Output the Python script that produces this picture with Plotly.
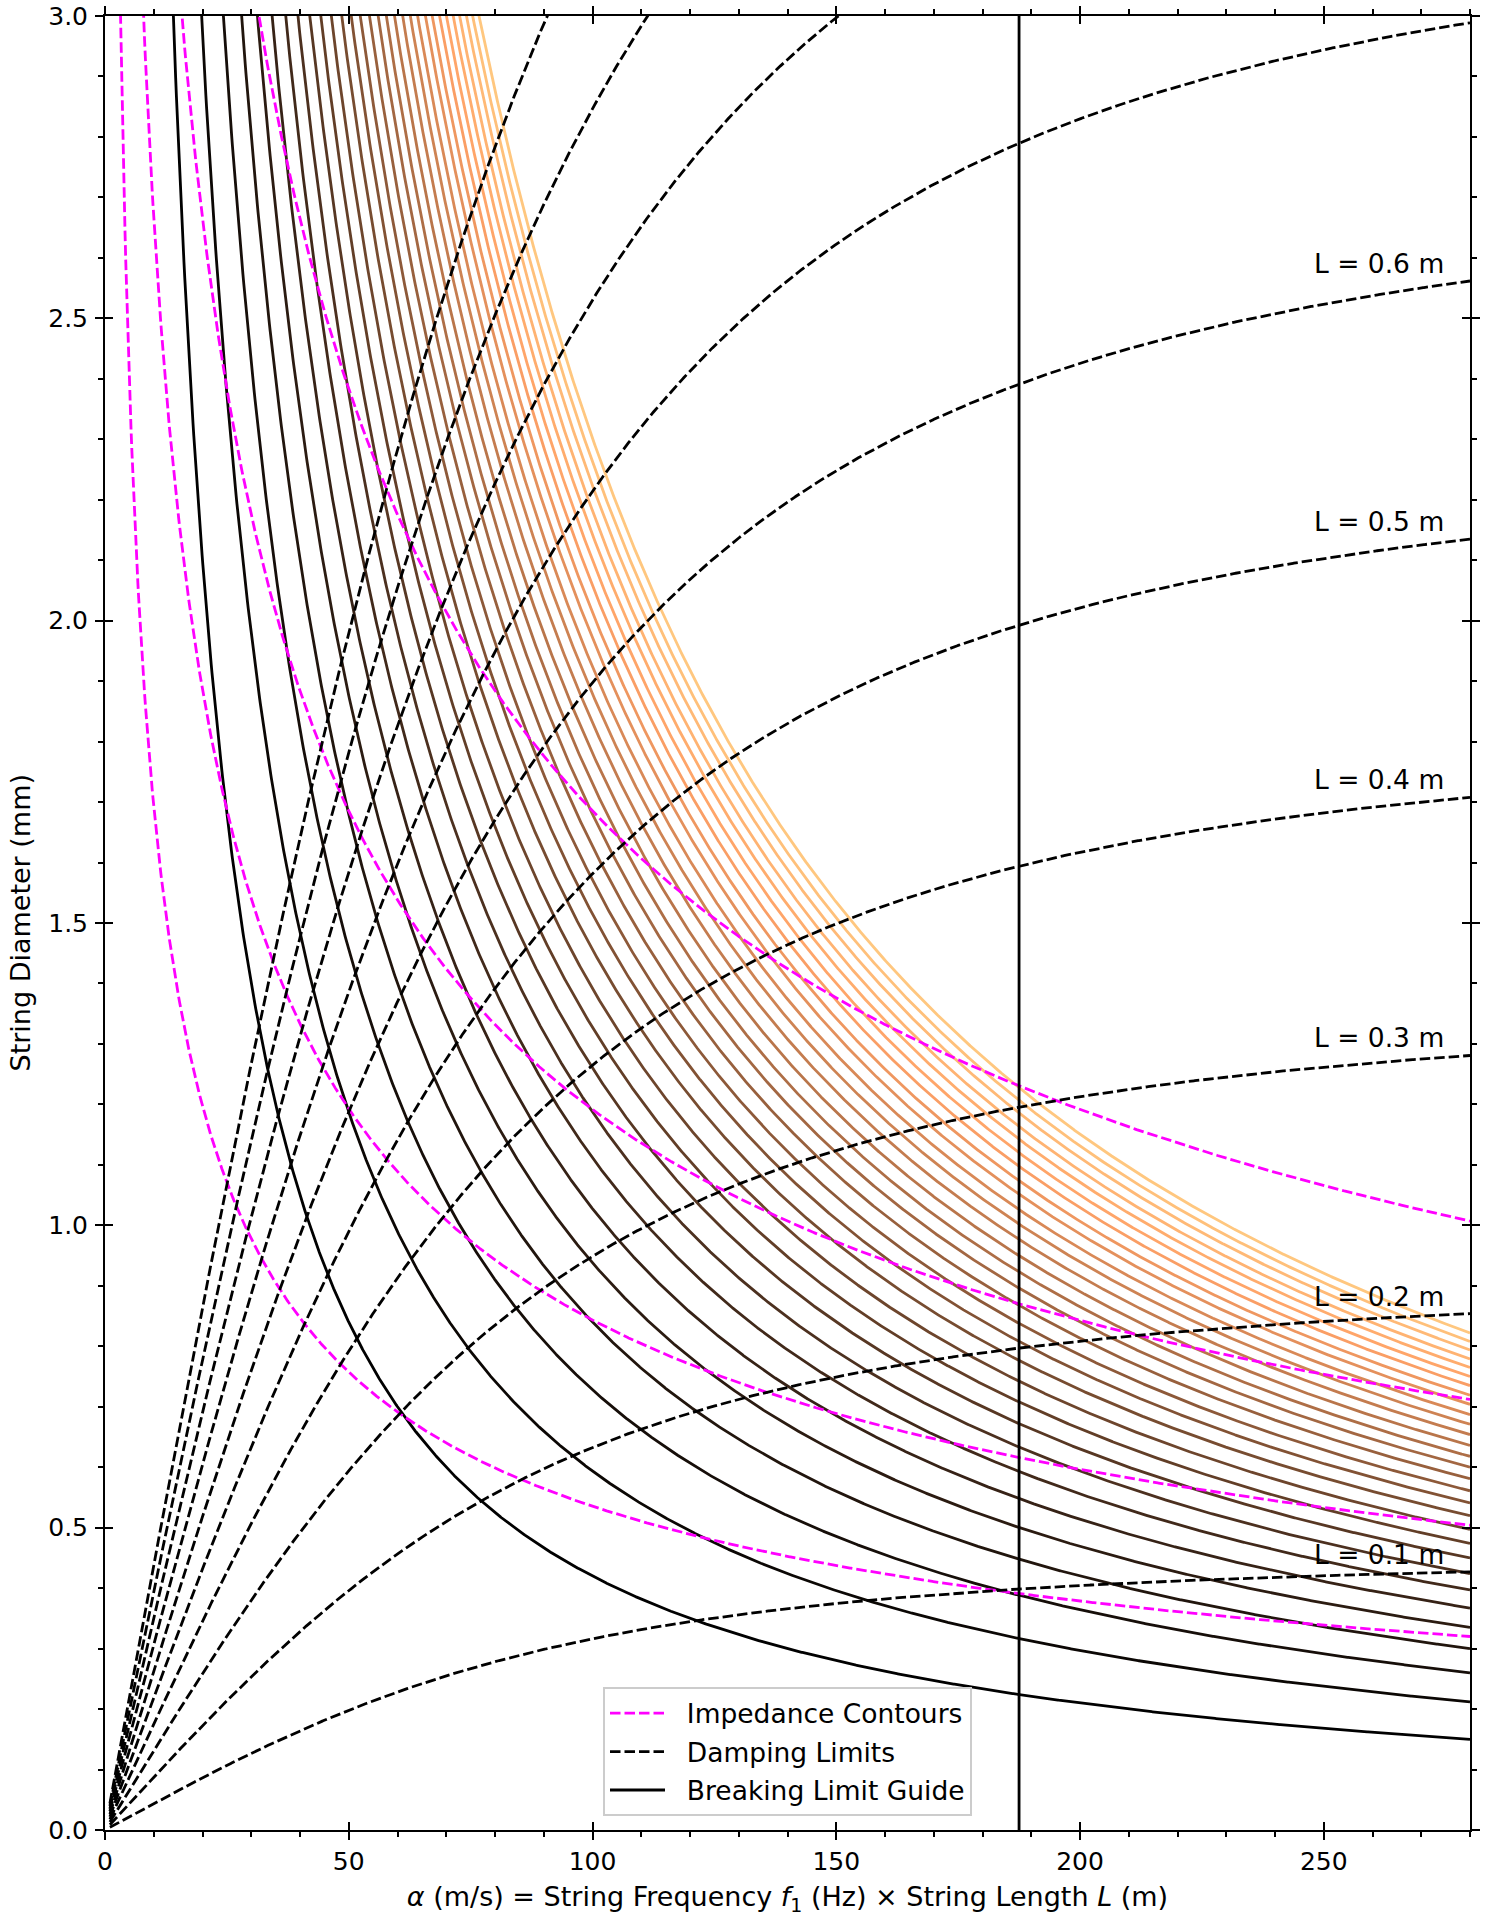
import numpy as np
import plotly.graph_objects as go

# ---------------- data ----------------
alpha_start = 1.0          # m/s, first computed point of every curve
alpha_max = 280.0          # m/s, right end of the axis

# Breaking-limit guide curves (d = c / alpha): diameter reached at alpha = 280
breaking_d_at_280 = [0.150, 0.212, 0.260, 0.300, 0.335, 0.367, 0.397, 0.424, 0.450, 0.474,
                     0.497, 0.520, 0.541, 0.561, 0.581, 0.600, 0.618, 0.636, 0.654, 0.671,
                     0.687, 0.704, 0.719, 0.735, 0.750, 0.765, 0.779, 0.794, 0.808, 0.822]

# Impedance contours (d ~ 1/sqrt(alpha)): diameter at alpha = 280
impedance_d_at_280 = [0.320, 0.504, 0.712, 1.007]

# Damping limits, one per string length L (m): d = L * k * alpha / sqrt(alpha^2 + a^2)
damping_L = [0.1, 0.2, 0.3, 0.4, 0.5, 0.6, 0.7, 0.8, 0.9, 1.0]
damping_k = 4.552          # mm per metre (asymptote of d / L)
damping_knee = 103.5       # m/s
label_L = [0.1, 0.2, 0.3, 0.4, 0.5, 0.6]
label_alpha = 275.0

# Vertical reference line
guide_alpha = [187.5]

x_ticks = [0, 50, 100, 150, 200, 250]
y_ticks = [0.0, 0.5, 1.0, 1.5, 2.0, 2.5, 3.0]

legend_names = {"imp": "Impedance Contours", "damp": "Damping Limits",
                "break": "Breaking Limit Guide"}

# ---------------- helpers ----------------
alpha = np.linspace(alpha_start, alpha_max, 1800)


def copper(x):
    r = min(1.0, x / 0.809524)
    g = 0.7812 * x
    b = 0.4975 * x
    return "rgb(%d,%d,%d)" % (round(r * 255), round(g * 255), round(b * 255))


def damping_curve(L, a):
    a = np.asarray(a, dtype=float)
    return L * damping_k * a / np.sqrt(a ** 2 + damping_knee ** 2)


def lname(key):
    return "\u00a0\u00a0" + legend_names[key]


FONT = "DejaVu Sans"
FS_TICK = 25
FS_TITLE = 27
FS_TEXT = 26.5
DASH = "10.5px,4px"
LW = 2.8

fig = go.Figure()

# Breaking limit guides
n = len(breaking_d_at_280)
for i, d280 in enumerate(breaking_d_at_280):
    fig.add_trace(go.Scatter(
        x=alpha, y=d280 * alpha_max / alpha, mode="lines",
        line=dict(color=copper(i / (n - 1)), width=LW),
        name=lname("break"), legendgroup="break", legendrank=3,
        showlegend=(i == 0), hoverinfo="skip"))

# Impedance contours
for i, d280 in enumerate(impedance_d_at_280):
    fig.add_trace(go.Scatter(
        x=alpha, y=d280 * np.sqrt(alpha_max / alpha), mode="lines",
        line=dict(color="#ff00ff", width=LW, dash=DASH),
        name=lname("imp"), legendgroup="imp", legendrank=1,
        showlegend=(i == 0), hoverinfo="skip"))

# Damping limits
for i, L in enumerate(damping_L):
    fig.add_trace(go.Scatter(
        x=alpha, y=damping_curve(L, alpha), mode="lines",
        line=dict(color="black", width=LW, dash=DASH),
        name=lname("damp"), legendgroup="damp", legendrank=2,
        showlegend=(i == 0), hoverinfo="skip"))

# Vertical guide line
fig.add_trace(go.Scatter(
    x=[guide_alpha[0], guide_alpha[0]], y=[y_ticks[0], y_ticks[-1]], mode="lines",
    line=dict(color="black", width=LW), showlegend=False, hoverinfo="skip"))

# invisible trace for the overlay axes (inner half of major ticks)
fig.add_trace(go.Scatter(x=[x_ticks[0]], y=[y_ticks[0]], xaxis="x2", yaxis="y2",
                         mode="markers", marker=dict(opacity=0), showlegend=False,
                         hoverinfo="skip"))

# Labels for the damping curves
for L in label_L:
    fig.add_annotation(x=label_alpha, y=float(damping_curve(L, alpha_max)),
                       text="L = %.1f m" % L, showarrow=False,
                       xanchor="right", yanchor="bottom",
                       font=dict(family=FONT, size=FS_TEXT, color="black"))

# y-axis title (placed as rotated text left of the tick labels)
fig.add_annotation(xref="paper", yref="paper", x=0, y=0.5, xshift=-85.5,
                   text="String Diameter (mm)", textangle=-90, showarrow=False,
                   xanchor="center", yanchor="middle",
                   font=dict(family=FONT, size=FS_TITLE, color="black"))

axis_common = dict(showgrid=False, zeroline=False, showline=True, linecolor="black",
                   linewidth=2, mirror="ticks", ticks="outside", ticklen=8, tickwidth=2,
                   tickcolor="black", automargin=False, ticklabeloverflow="allow",
                   tickfont=dict(family=FONT, size=FS_TICK, color="black"))

fig.update_layout(
    width=1511, height=1916,
    margin=dict(l=105, r=41, t=16, b=86, autoexpand=False),
    paper_bgcolor="white", plot_bgcolor="white",
    font=dict(family=FONT, size=FS_TICK, color="black"),
    xaxis=dict(range=[0, alpha_max], tickvals=x_ticks, ticktext=[str(v) for v in x_ticks],
               minor=dict(ticks="outside", ticklen=5, tickwidth=1.5, tickcolor="black", dtick=10),
               ticklabelstandoff=0,
               title=dict(text="<i>α</i> (m/s) = String Frequency <i>f</i><sub>1</sub> (Hz) × String Length <i>L</i> (m)",
                          font=dict(family=FONT, size=FS_TITLE, color="black"), standoff=25),
               **axis_common),
    yaxis=dict(range=[0, 3.0], tickvals=y_ticks, ticktext=["%.1f" % v for v in y_ticks],
               minor=dict(ticks="outside", ticklen=5, tickwidth=1.5, tickcolor="black", dtick=0.1),
               ticklabelstandoff=2,
               **axis_common),
    xaxis2=dict(overlaying="x", matches="x", anchor="y2", side="bottom", automargin=False,
                showgrid=False, zeroline=False, showline=False, showticklabels=False,
                ticks="inside", ticklen=8, tickwidth=2, tickcolor="black",
                tickvals=x_ticks, mirror="ticks"),
    yaxis2=dict(overlaying="y", matches="y", anchor="x2", side="left", automargin=False,
                showgrid=False, zeroline=False, showline=False, showticklabels=False,
                ticks="inside", ticklen=8, tickwidth=2, tickcolor="black",
                tickvals=y_ticks, mirror="ticks"),
    legend=dict(x=0.5, xanchor="center", y=0.0075, yanchor="bottom",
                bgcolor="rgba(255,255,255,0.85)", bordercolor="#cccccc", borderwidth=2,
                font=dict(family=FONT, size=FS_TEXT, color="black"), itemwidth=55,
                traceorder="grouped", tracegroupgap=1),
    showlegend=True,
)

fig.write_html("out.html", config={"displayModeBar": False},
               post_script="document.body.style.margin='0';")
